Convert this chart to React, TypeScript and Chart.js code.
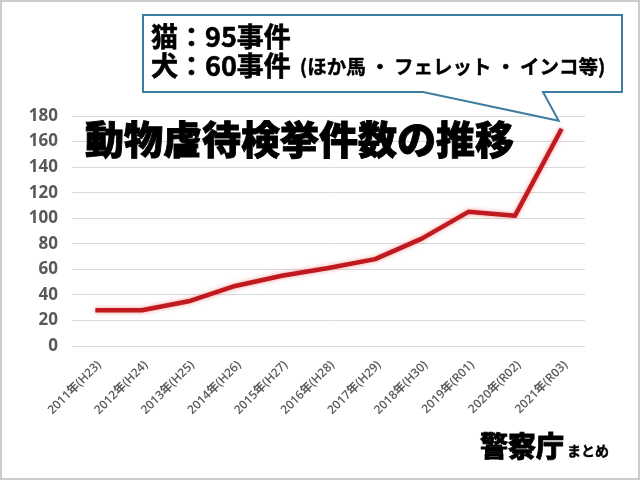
import React, { useEffect, useRef } from "react";
import { Chart, registerables } from "chart.js";

Chart.register(...registerables);

// ---- data ----
const categories = [
  "2011年(H23)",
  "2012年(H24)",
  "2013年(H25)",
  "2014年(H26)",
  "2015年(H27)",
  "2016年(H28)",
  "2017年(H29)",
  "2018年(H30)",
  "2019年(R01)",
  "2020年(R02)",
  "2021年(R03)",
];
const cases = [28, 28, 35, 47, 55, 61, 68, 84, 105, 102, 170];
const yMin = 0;
const yMax = 180;
const yStep = 20;

const titleText = "動物虐待検挙件数の推移";
const calloutLine1 = "猫：95事件";
const calloutLine2 = "犬：60事件";
const calloutNote = "(ほか馬 ・ フェレット ・ インコ等)";
const sourceMain = "警察庁";
const sourceSub = "まとめ";

const JP = '"Noto Sans CJK JP", "Noto Sans", sans-serif';
const LATIN = '"Open Sans", "Noto Sans CJK JP", sans-serif';

function heavyText(
  ctx: CanvasRenderingContext2D,
  text: string,
  x: number,
  y: number,
  stroke: number
) {
  ctx.fillText(text, x, y);
  if (stroke > 0) {
    ctx.lineWidth = stroke;
    ctx.strokeStyle = ctx.fillStyle as string;
    ctx.lineJoin = "miter";
    ctx.strokeText(text, x, y);
  }
}

const overlayPlugin = {
  id: "overlay",
  beforeDatasetsDraw(chart: any) {
    const ctx = chart.ctx;
    ctx.save();
    ctx.shadowColor = "rgba(235,60,60,0.5)";
    ctx.shadowBlur = 4;
  },
  afterDatasetsDraw(chart: any) {
    chart.ctx.restore();
  },
  afterDraw(chart: any) {
    const ctx = chart.ctx as CanvasRenderingContext2D;
    const meta = chart.getDatasetMeta(0);
    const last = meta.data[meta.data.length - 1];

    // title
    ctx.save();
    ctx.fillStyle = "#000000";
    ctx.font = `900 39px ${JP}`;
    ctx.textBaseline = "middle";
    ctx.textAlign = "left";
    heavyText(ctx, titleText, 85, 139, 0.9);
    ctx.restore();

    // callout
    const bx = 143,
      by = 15,
      bw = 479,
      bh = 77;
    const tipX = last.x - 3;
    const tipY = last.y - 8;
    ctx.save();
    ctx.beginPath();
    ctx.moveTo(bx, by);
    ctx.lineTo(bx + bw, by);
    ctx.lineTo(bx + bw, by + bh);
    ctx.lineTo(543, by + bh);
    ctx.lineTo(tipX, tipY);
    ctx.lineTo(423, by + bh);
    ctx.lineTo(bx, by + bh);
    ctx.closePath();
    ctx.fillStyle = "#ffffff";
    ctx.fill();
    ctx.lineWidth = 2;
    ctx.strokeStyle = "#3f7da0";
    ctx.lineJoin = "miter";
    ctx.stroke();

    ctx.fillStyle = "#000000";
    ctx.textBaseline = "middle";
    ctx.textAlign = "left";
    ctx.font = `bold 27px ${JP}`;
    heavyText(ctx, calloutLine1, 151, 37, 0.6);
    heavyText(ctx, calloutLine2, 151, 66, 0.6);
    ctx.font = `bold 27px ${JP}`;
    const w2 = ctx.measureText(calloutLine2).width;
    ctx.font = `bold 19.5px ${JP}`;
    heavyText(ctx, calloutNote, 151 + w2 + 9, 67, 0.4);
    ctx.restore();

    // source
    ctx.save();
    ctx.fillStyle = "#000000";
    ctx.textBaseline = "alphabetic";
    ctx.textAlign = "left";
    ctx.font = `900 28px ${JP}`;
    heavyText(ctx, sourceMain, 480, 457, 0.8);
    const ws = ctx.measureText(sourceMain).width;
    ctx.font = `bold 14px ${JP}`;
    heavyText(ctx, sourceSub, 480 + ws + 3, 456, 0.4);
    ctx.restore();

    // frame
    ctx.save();
    ctx.strokeStyle = "#cccccc";
    ctx.lineWidth = 2;
    ctx.strokeRect(1, 1, 638, 478);
    ctx.restore();
  },
};

export default function App() {
  const ref = useRef<HTMLCanvasElement | null>(null);

  useEffect(() => {
    if (!ref.current) return;
    const chart = new Chart(ref.current, {
      type: "line",
      data: {
        labels: categories,
        datasets: [
          {
            data: cases,
            borderColor: "#c01a20",
            borderWidth: 4.5,
            pointRadius: 0,
            tension: 0,
            borderJoinStyle: "round",
            borderCapStyle: "butt",
            fill: false,
          },
        ],
      },
      options: {
        responsive: false,
        animation: false,
        devicePixelRatio: 1,
        layout: { padding: { left: 0, right: 55, top: 116, bottom: 0 } },
        plugins: {
          legend: { display: false },
          tooltip: { enabled: false },
          title: { display: false },
        },
        scales: {
          x: {
            offset: true,
            grid: { display: false, drawTicks: false },
            border: { display: false },
            ticks: {
              autoSkip: false,
              maxRotation: 45,
              minRotation: 45,
              padding: 12,
              labelOffset: 4,
              color: "#595959",
              font: { family: LATIN, size: 12, weight: "600" },
            },
            afterFit: (s: any) => {
              s.height = 134;
            },
          },
          y: {
            min: yMin,
            max: yMax,
            grid: { color: "#d9d9d9", lineWidth: 1, drawTicks: false },
            border: { display: false },
            ticks: {
              stepSize: yStep,
              padding: 14,
              color: "#595959",
              font: { family: LATIN, size: 17, weight: "bold" },
            },
            afterFit: (s: any) => {
              s.width = 72;
            },
          },
        },
      },
      plugins: [overlayPlugin],
    } as any);
    return () => chart.destroy();
  }, []);

  return (
    <div
      style={{
        position: "absolute",
        left: 0,
        top: 0,
        width: 640,
        height: 480,
        background: "#ffffff",
      }}
    >
      <canvas ref={ref} width={640} height={480} />
    </div>
  );
}
